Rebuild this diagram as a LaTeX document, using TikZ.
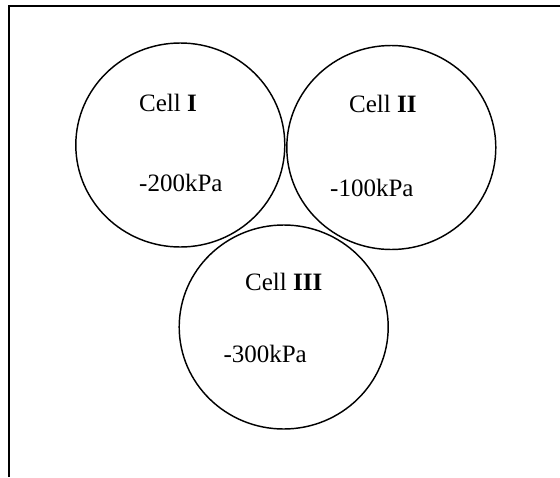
\documentclass[tikz,border=0pt]{standalone}
\usepackage{fontspec}
\setmainfont{Liberation Serif}
\usetikzlibrary{shapes.geometric}
\tikzset{
  cell/.style={ellipse, draw, line width=1.45pt, minimum width=209pt, minimum height=204pt, inner sep=0pt},
  lbl/.style={anchor=base west, inner sep=0pt, font=\fontsize{25}{30}\selectfont},
  frame/.style={line width=2pt}
}
\begin{document}
\begin{tikzpicture}[x=1pt,y=-1pt]
\useasboundingbox (0,0) rectangle (560,477);
\coordinate (fb) at (9.3,477);
\coordinate (fc) at (9.3,5.8);
\coordinate (fr) at (560,5.8);
\draw[frame] (fb) -- (fc) -- (fr);
\node[cell] (c1) at (180.3,145) {};
\node[cell] (c2) at (391.3,147.5) {};
\node[cell] (c3) at (283.7,327) {};
\node[lbl] (t1) at (139,111) {Cell \textbf{I}};
\node[lbl] (p1) at (139,191.7) {-200kPa};
\node[lbl] (t2) at (349,112.3) {Cell \textbf{II}};
\node[lbl] (p2) at (330,196.7) {-100kPa};
\node[lbl] (t3) at (245,290.7) {Cell \textbf{III}};
\node[lbl] (p3) at (223.3,362.3) {-300kPa};
\end{tikzpicture}
\end{document}
